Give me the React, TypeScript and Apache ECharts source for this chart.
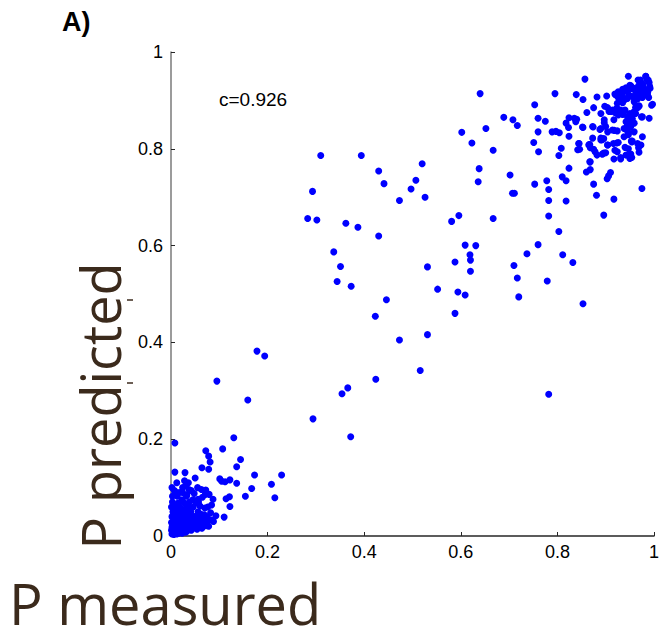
import React, { useEffect, useRef } from "react";
import * as echarts from "echarts";

const xTicks = [0, 0.2, 0.4, 0.6, 0.8, 1];
const yTicks = [0, 0.2, 0.4, 0.6, 0.8, 1];
const panelLabel = "A)";
const corrLabel = "c=0.926";
const yTitle = "P predicted";
const xTitle = "P measured";

// [measured, predicted]
const originCluster: number[][] = [
  [0.002,0.004],[0.004,0.010],[0.006,0.003],[0.008,0.015],[0.010,0.006],[0.003,0.022],[0.005,0.030],[0.002,0.040],
  [0.004,0.050],[0.001,0.060],[0.003,0.070],[0.006,0.045],[0.009,0.035],[0.012,0.025],[0.014,0.012],[0.016,0.006],
  [0.018,0.020],[0.020,0.030],[0.022,0.010],[0.024,0.042],[0.026,0.018],[0.028,0.055],[0.030,0.008],[0.032,0.028],
  [0.034,0.038],[0.036,0.015],[0.038,0.048],[0.040,0.022],[0.042,0.012],[0.044,0.033],[0.046,0.060],[0.048,0.018],
  [0.050,0.040],[0.052,0.026],[0.054,0.014],[0.056,0.050],[0.058,0.032],[0.060,0.022],[0.062,0.045],[0.064,0.016],
  [0.066,0.036],[0.068,0.026],[0.070,0.058],[0.074,0.040],[0.078,0.020],[0.082,0.048],[0.088,0.030],[0.011,0.050],
  [0.015,0.068],[0.019,0.058],[0.023,0.075],[0.027,0.068],[0.013,0.082],[0.007,0.094],[0.017,0.090],[0.033,0.085],
  [0.038,0.070],[0.045,0.075],[0.052,0.068],[0.060,0.062],[0.009,0.060],[0.001,0.028],[0.003,0.082],[0.021,0.044],
  [0.029,0.036],[0.035,0.060],[0.041,0.050],[0.047,0.040],[0.057,0.070],[0.063,0.030],[0.069,0.044],[0.076,0.060],
  [0.084,0.064],[0.002,0.100],[0.012,0.110],[0.024,0.090],[0.031,0.104],[0.037,0.096],[0.048,0.088],[0.055,0.100],
  [0.065,0.080],[0.072,0.095],
  [0.001,0.012],[0.002,0.018],[0.004,0.026],[0.006,0.020],[0.008,0.008],[0.010,0.018],[0.012,0.004],[0.013,0.032],
  [0.015,0.024],[0.017,0.040],[0.019,0.014],[0.021,0.022],[0.023,0.006],[0.025,0.030],[0.027,0.012],[0.029,0.022],
  [0.031,0.016],[0.033,0.010],[0.035,0.026],[0.037,0.020],[0.039,0.032],[0.043,0.024],[0.045,0.016],[0.049,0.028],
  [0.053,0.034],[0.057,0.024],[0.061,0.036],[0.065,0.024],[0.071,0.030],[0.075,0.028],[0.080,0.034],[0.007,0.052],
  [0.011,0.040],[0.014,0.048],[0.018,0.034],[0.022,0.052],[0.026,0.046],[0.030,0.044],[0.034,0.050],[0.040,0.040]
];

const lowPoints: number[][] = [
  [0.008,0.192],[0.130,0.203],[0.072,0.176],[0.078,0.165],[0.107,0.180],[0.144,0.158],[0.136,0.143],[0.081,0.153],
  [0.078,0.138],[0.064,0.141],[0.173,0.126],[0.229,0.126],[0.208,0.107],[0.215,0.079],[0.167,0.098],[0.154,0.082],
  [0.136,0.109],[0.122,0.116],[0.101,0.118],[0.105,0.113],[0.112,0.112],[0.114,0.077],[0.121,0.081],[0.122,0.061],
  [0.110,0.039],[0.050,0.120],[0.029,0.131],[0.008,0.132],[0.008,0.092],[0.024,0.100],[0.036,0.110],[0.028,0.114],
  [0.063,0.096],[0.087,0.076],[0.093,0.042],[0.086,0.033],[0.072,0.021],[0.072,0.028],[0.079,0.086],[0.071,0.086],
  [0.056,0.076],[0.042,0.094],[0.032,0.082],
  [0.095,0.320],[0.178,0.382],[0.194,0.372],[0.159,0.281]
];

const midPoints: number[][] = [
  [0.310,0.786],[0.394,0.786],[0.430,0.754],[0.441,0.728],[0.520,0.769],[0.507,0.735],[0.497,0.717],[0.526,0.700],
  [0.473,0.693],[0.293,0.712],[0.283,0.656],[0.302,0.653],[0.362,0.646],[0.387,0.638],[0.430,0.620],[0.337,0.587],
  [0.351,0.557],[0.344,0.526],[0.373,0.516],[0.446,0.488],[0.423,0.454],[0.473,0.405],[0.531,0.416],[0.531,0.556],
  [0.552,0.510],[0.588,0.566],[0.594,0.504],[0.609,0.498],[0.588,0.460],[0.609,0.601],[0.631,0.600],[0.619,0.581],
  [0.620,0.570],[0.620,0.547],[0.581,0.650],[0.596,0.662],[0.667,0.656],[0.638,0.759],[0.636,0.732],[0.602,0.834],
  [0.623,0.812],[0.652,0.842],[0.667,0.797],
  [0.516,0.342],[0.424,0.324],[0.366,0.306],[0.354,0.294],[0.294,0.242],[0.372,0.205],[0.782,0.293],[0.853,0.480],
  [0.702,0.746],[0.707,0.708],[0.711,0.708],[0.737,0.583],[0.710,0.559],[0.717,0.533],[0.720,0.494]
];

const rightPoints: number[][] = [
  [0.751,0.813],[0.761,0.794],[0.808,0.801],[0.803,0.786],[0.844,0.811],[0.846,0.799],[0.865,0.808],[0.875,0.799],
  [0.882,0.787],[0.896,0.791],[0.904,0.808],[0.923,0.812],[0.919,0.797],[0.931,0.779],[0.940,0.803],[0.947,0.800],
  [0.954,0.782],[0.968,0.802],[0.954,0.814],[0.868,0.773],[0.824,0.760],[0.868,0.757],[0.860,0.752],[0.910,0.751],
  [0.906,0.744],[0.903,0.738],[0.810,0.742],[0.818,0.734],[0.753,0.727],[0.778,0.734],[0.782,0.716],[0.875,0.727],
  [0.881,0.704],[0.917,0.696],[0.975,0.718],[0.782,0.693],[0.818,0.692],[0.896,0.663],[0.782,0.661],[0.803,0.629],
  [0.760,0.602],[0.811,0.581],[0.832,0.565],[0.779,0.527]
];

const topPoints: number[][] = [
  [0.857,0.944],[0.947,0.950],[0.983,0.950],[0.986,0.942],[0.990,0.937],[0.795,0.914],[0.640,0.914],[0.753,0.891],
  [0.839,0.912],[0.853,0.902],[0.882,0.907],[0.902,0.909],[0.919,0.913],[0.926,0.918],[0.935,0.923],[0.942,0.926],
  [0.950,0.931],[0.955,0.924],[0.962,0.919],[0.970,0.927],[0.975,0.935],[0.967,0.942],[0.981,0.923],[0.987,0.917],
  [0.991,0.929],[0.989,0.906],[0.997,0.892],[0.930,0.899],[0.940,0.902],[0.948,0.911],[0.959,0.908],[0.966,0.903],
  [0.973,0.909],[0.978,0.915],[0.924,0.894],[0.935,0.895],[0.962,0.886],[0.969,0.888],[0.861,0.875],[0.875,0.885],
  [0.890,0.873],[0.898,0.888],[0.904,0.885],[0.911,0.877],[0.919,0.875],[0.926,0.879],[0.933,0.875],[0.940,0.880],
  [0.953,0.872],[0.962,0.873],[0.974,0.866],[0.990,0.863],[0.824,0.864],[0.835,0.863],[0.840,0.861],[0.838,0.856],
  [0.818,0.853],[0.823,0.844],[0.897,0.860],[0.897,0.854],[0.917,0.860],[0.942,0.856],[0.948,0.853],[0.955,0.858],
  [0.760,0.863],[0.775,0.857],[0.689,0.865],[0.708,0.860],[0.717,0.848],[0.853,0.844],[0.873,0.846],[0.888,0.840],
  [0.904,0.835],[0.918,0.838],[0.947,0.846],[0.760,0.835],[0.789,0.835],[0.797,0.836],[0.804,0.833],[0.824,0.826],
  [0.942,0.840],[0.948,0.843],[0.866,0.809],[0.873,0.822],[0.890,0.818],[0.896,0.821],[0.955,0.816],[0.976,0.825],
  [0.907,0.877],[0.914,0.880],[0.923,0.884],[0.931,0.880],[0.938,0.877],[0.926,0.870],[0.935,0.871],[0.945,0.866],
  [0.950,0.873],[0.959,0.877],[0.966,0.885],[0.969,0.889],[0.955,0.863],[0.948,0.856],[0.945,0.849],[0.952,0.846],
  [0.959,0.853],[0.976,0.866],[0.995,0.890],[0.852,0.845],[0.874,0.845],[0.890,0.842],[0.900,0.846],[0.914,0.839],
  [0.924,0.837],[0.938,0.842],[0.947,0.832],[0.959,0.835],[0.845,0.811],[0.867,0.809],[0.890,0.822],[0.893,0.819],
  [0.904,0.808],[0.916,0.811],[0.926,0.813],[0.938,0.825],[0.947,0.829],[0.953,0.816],[0.966,0.811],[0.842,0.798],
  [0.868,0.802],[0.878,0.794],[0.893,0.789],[0.900,0.792],[0.924,0.794],[0.942,0.787],[0.952,0.789],[0.969,0.793],
  [0.973,0.808],[0.917,0.779],[0.931,0.782],[0.950,0.780],[0.867,0.773],[0.972,0.942],[0.977,0.933],[0.968,0.930],
  [0.959,0.925],[0.952,0.930],[0.946,0.921],[0.937,0.918],[0.928,0.915],[0.921,0.911],[0.926,0.906],[0.935,0.908],
  [0.945,0.904],[0.955,0.908],[0.966,0.915],[0.975,0.918],[0.983,0.921],[0.992,0.925],[0.987,0.910],[0.976,0.906],
  [0.962,0.903],[0.959,0.897],[0.983,0.950],[0.988,0.942]
];

const allPoints = [...originCluster, ...lowPoints, ...midPoints, ...rightPoints, ...topPoints];

const BROWN = "#3b2a1c";
const FONT = "'Liberation Sans', Arial, Helvetica, sans-serif";

export default function App() {
  const ref = useRef<HTMLDivElement>(null);
  useEffect(() => {
    if (!ref.current) return;
    const chart = echarts.init(ref.current, null, { renderer: "svg" });
    chart.setOption({
      animation: false,
      backgroundColor: "#ffffff",
      grid: { left: 171, top: 52, width: 484, height: 484, containLabel: false },
      xAxis: {
        type: "value",
        min: xTicks[0],
        max: xTicks[xTicks.length - 1],
        interval: 0.2,
        axisLine: { show: true, onZero: false, lineStyle: { color: "#262626", width: 1.5 } },
        axisTick: { show: true, inside: true, length: 4, lineStyle: { color: "#262626", width: 1 } },
        axisLabel: { color: "#000", fontSize: 18, fontFamily: FONT, margin: 7 },
        splitLine: { show: false },
      },
      yAxis: {
        type: "value",
        min: yTicks[0],
        max: yTicks[yTicks.length - 1],
        interval: 0.2,
        axisLine: { show: true, onZero: false, lineStyle: { color: "#7a7a7a", width: 1.5 } },
        axisTick: { show: true, inside: true, length: 4, lineStyle: { color: "#262626", width: 1 } },
        axisLabel: { color: "#000", fontSize: 18, fontFamily: FONT, margin: 8 },
        splitLine: { show: false },
      },
      series: [
        {
          type: "scatter",
          data: allPoints,
          symbol: "circle",
          symbolSize: 7,
          itemStyle: { color: "#0000ff", opacity: 1 },
          silent: true,
        },
      ],
      graphic: [
        {
          type: "text",
          left: 62,
          top: 8,
          style: { text: panelLabel, font: `bold 27px ${FONT}`, fill: "#000" },
        },
        {
          type: "text",
          x: 219,
          y: 99,
          style: { text: corrLabel, font: `19px ${FONT}`, fill: "#000", verticalAlign: "middle" },
        },
        {
          type: "text",
          x: 100,
          y: 406,
          rotation: Math.PI / 2,
          style: {
            text: yTitle,
            font: `54px 'Open Sans', sans-serif`,
            fill: BROWN,
            align: "center",
            verticalAlign: "middle",
            lineHeight: 60,
          },
        },
        {
          type: "text",
          x: 9,
          y: 603,
          style: {
            text: xTitle,
            font: `56px 'Open Sans', sans-serif`,
            fill: BROWN,
            align: "left",
            verticalAlign: "middle",
            lineHeight: 56,
          },
        },
        { type: "line", shape: { x1: 127, y1: 300, x2: 133, y2: 300 }, style: { stroke: BROWN, lineWidth: 1.5 } },
        { type: "line", shape: { x1: 127, y1: 383, x2: 133, y2: 383 }, style: { stroke: BROWN, lineWidth: 1.5 } },
      ],
    });
    return () => chart.dispose();
  }, []);
  return (
    <div
      ref={ref}
      style={{ position: "absolute", left: 0, top: 0, width: 662, height: 642 }}
    />
  );
}
